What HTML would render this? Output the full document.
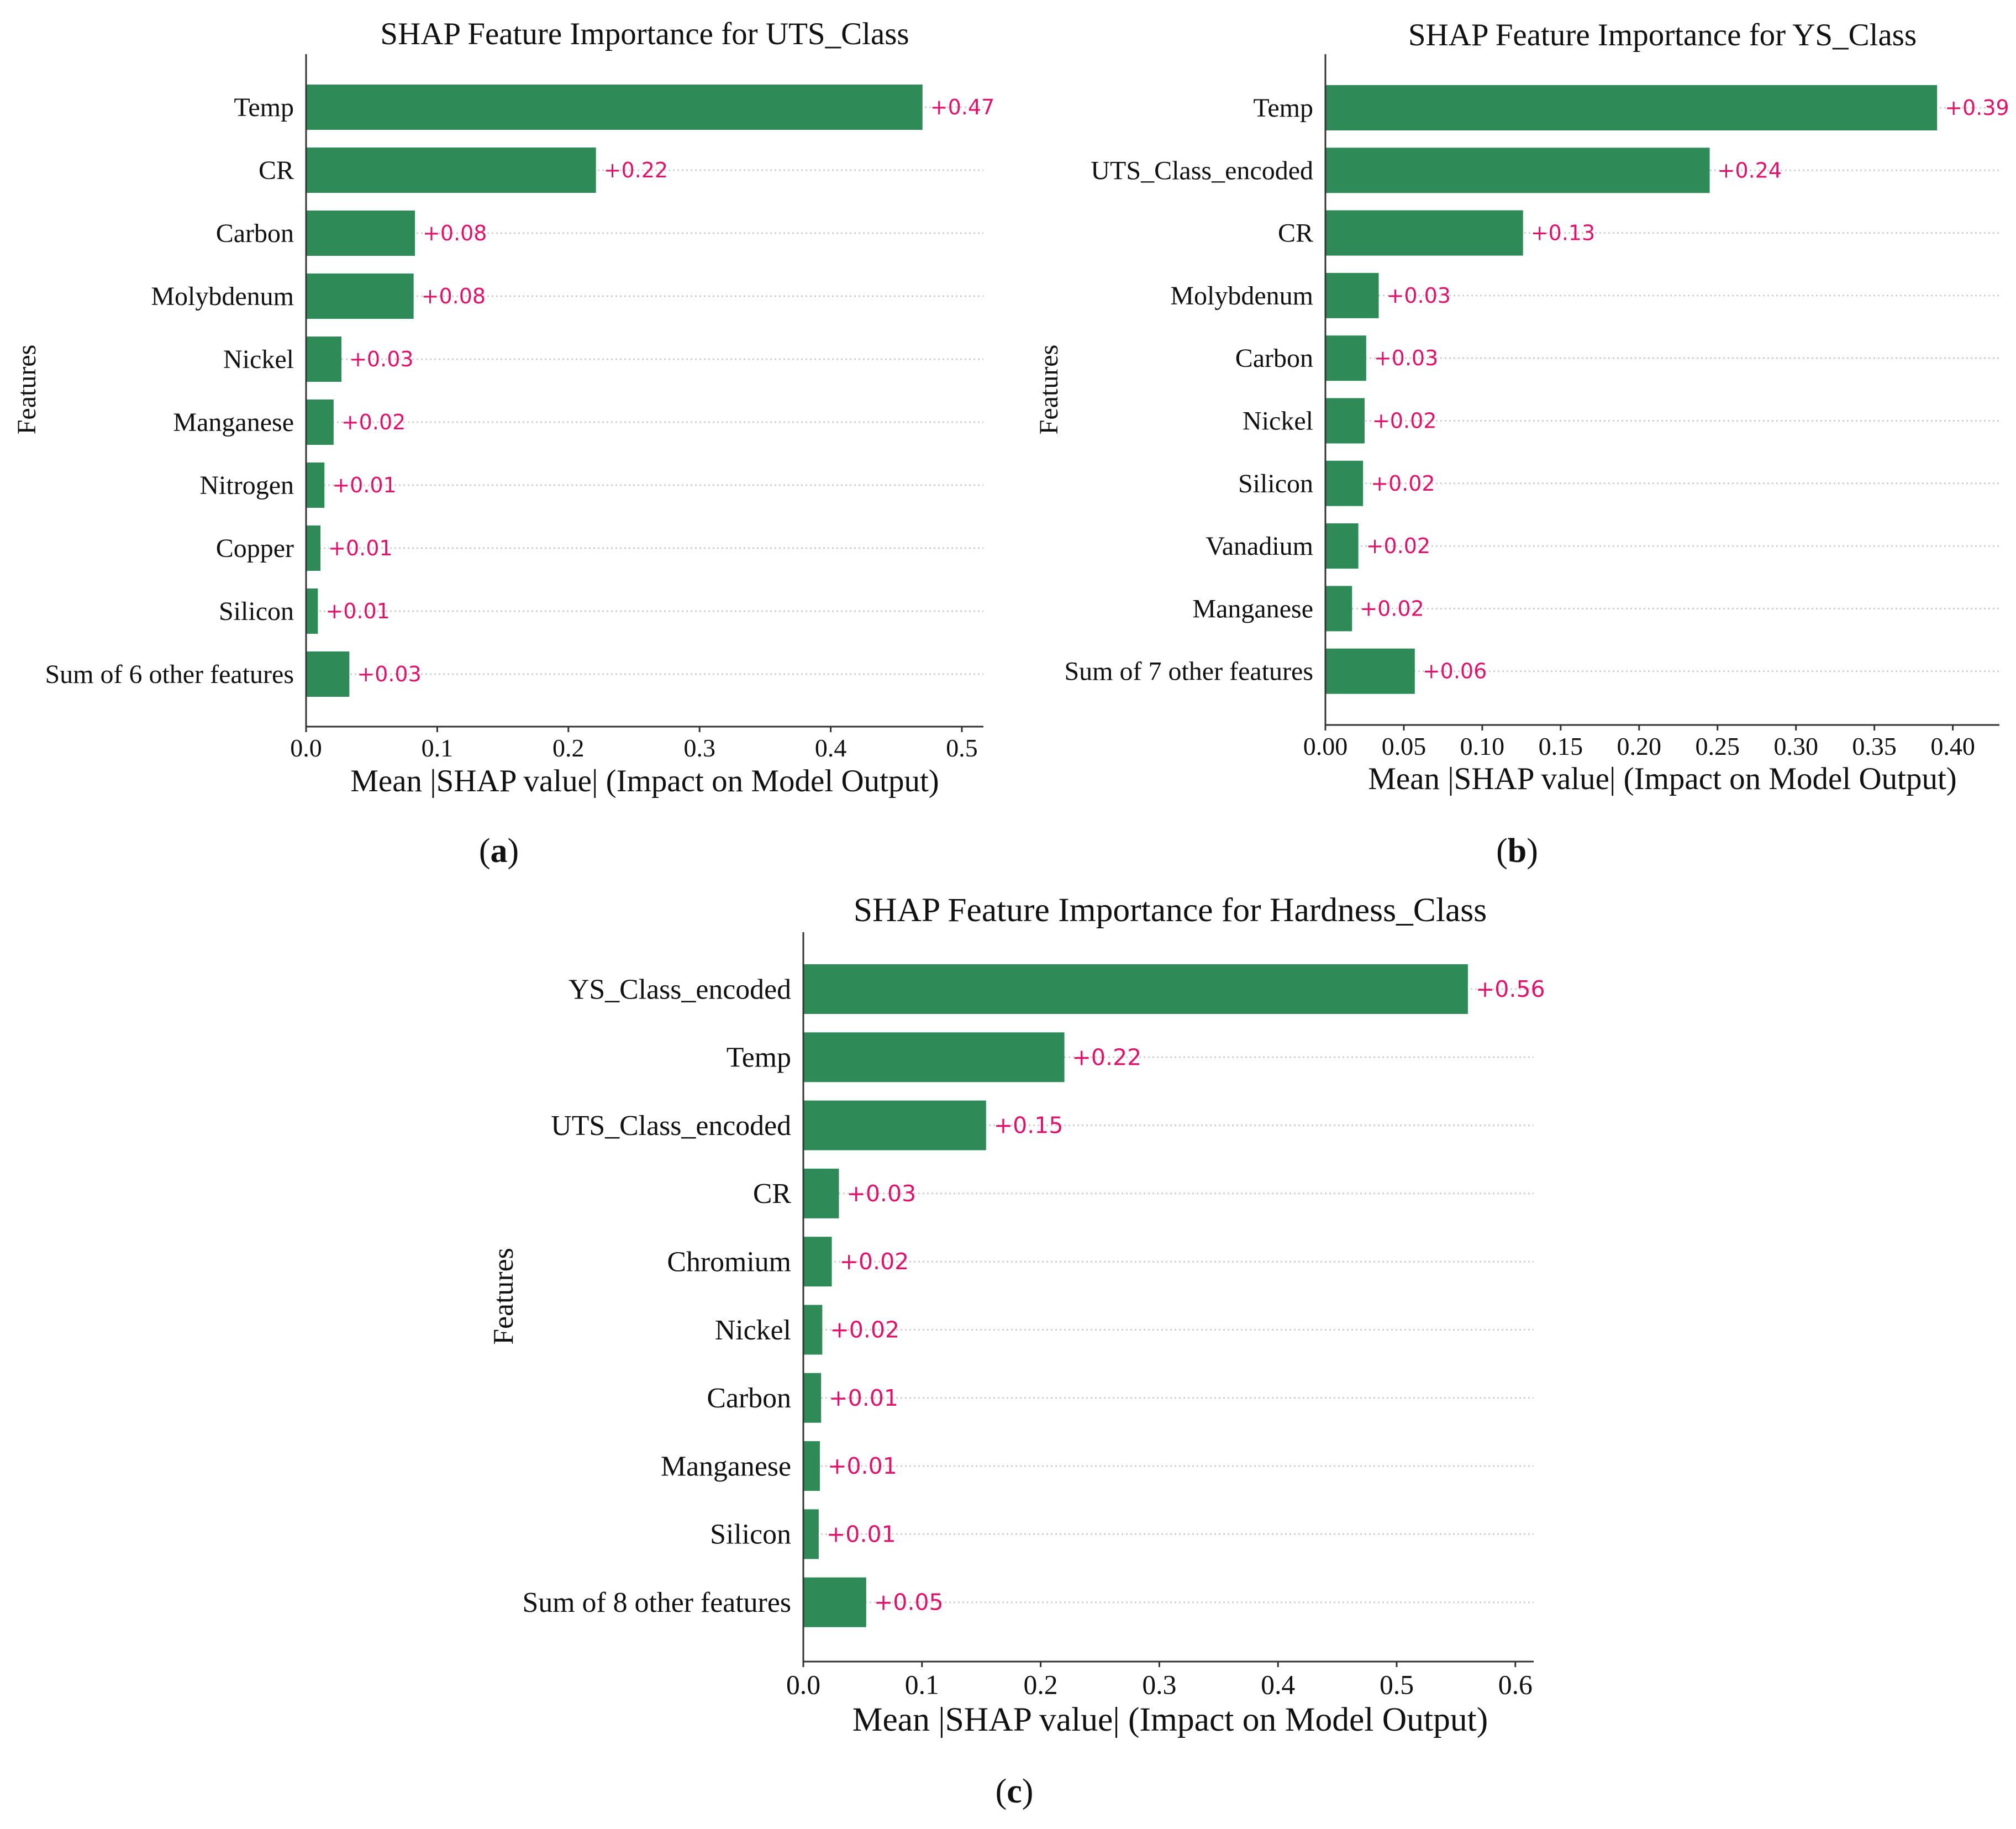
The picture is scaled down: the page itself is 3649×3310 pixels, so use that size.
<!DOCTYPE html>
<html><head><meta charset="utf-8"><style>
html,body{margin:0;padding:0;background:#fff;}
svg{display:block;}
.serif{font-family:"Liberation Serif",serif;fill:#111;}
.val{font-family:"DejaVu Sans","Liberation Sans",sans-serif;fill:#e0136b;}
</style></head><body>
<svg id="fig" width="3649" height="3310" viewBox="0 0 3649 3310" xmlns="http://www.w3.org/2000/svg"></svg>
<script>
const catsA = ["Temp","CR","Carbon","Molybdenum","Nickel","Manganese","Nitrogen","Copper","Silicon","Sum of 6 other features"];
const valsA = [0.470,0.221,0.083,0.082,0.027,0.021,0.014,0.011,0.009,0.033];
const labsA = ["+0.47","+0.22","+0.08","+0.08","+0.03","+0.02","+0.01","+0.01","+0.01","+0.03"];
const ticksA = [0,0.1,0.2,0.3,0.4,0.5];
const tickLabsA = ["0.0","0.1","0.2","0.3","0.4","0.5"];

const catsB = ["Temp","UTS_Class_encoded","CR","Molybdenum","Carbon","Nickel","Silicon","Vanadium","Manganese","Sum of 7 other features"];
const valsB = [0.390,0.245,0.126,0.034,0.026,0.025,0.024,0.021,0.017,0.057];
const labsB = ["+0.39","+0.24","+0.13","+0.03","+0.03","+0.02","+0.02","+0.02","+0.02","+0.06"];
const ticksB = [0,0.05,0.10,0.15,0.20,0.25,0.30,0.35,0.40];
const tickLabsB = ["0.00","0.05","0.10","0.15","0.20","0.25","0.30","0.35","0.40"];

const catsC = ["YS_Class_encoded","Temp","UTS_Class_encoded","CR","Chromium","Nickel","Carbon","Manganese","Silicon","Sum of 8 other features"];
const valsC = [0.560,0.220,0.154,0.030,0.024,0.016,0.015,0.014,0.013,0.053];
const labsC = ["+0.56","+0.22","+0.15","+0.03","+0.02","+0.02","+0.01","+0.01","+0.01","+0.05"];
const ticksC = [0,0.1,0.2,0.3,0.4,0.5,0.6];
const tickLabsC = ["0.0","0.1","0.2","0.3","0.4","0.5","0.6"];

const NS="http://www.w3.org/2000/svg";
const svg=document.getElementById('fig');
function mk(tag,attrs,parent,text){
  const e=document.createElementNS(NS,tag);
  for(const k in attrs) e.setAttribute(k,attrs[k]);
  if(text!==undefined) e.textContent=text;
  (parent||svg).appendChild(e);return e;
}
function panel(p){
  const s=p.fs||1;
  const g=mk('g',{});
  
  
  const x=v=>p.x0+v*p.ppu;
  const y=i=>p.yc0+i*p.step;
  const xEnd=p.xEnd;
  p.cats.forEach((c,i)=>{
    const l=mk('line',{x1:p.x0,x2:xEnd,y1:y(i),y2:y(i),stroke:'#cfcfcf','stroke-width':3,'stroke-dasharray':'3 5'},g);
    
    
  });
  p.cats.forEach((c,i)=>{
    const r=mk('rect',{x:p.x0,y:y(i)-p.bh/2,width:x(p.vals[i])-p.x0,height:p.bh,fill:'#2e8b57'},g);
    
    
    const v=mk('text',{x:x(p.vals[i])+14,y:y(i)+13*s,'font-size':38*s,class:'val'},g,p.labs[i]);
    
    
    const t=mk('text',{x:p.x0-22,y:y(i)+16*s,'font-size':48*s,'text-anchor':'end',class:'serif'},g,c);
    
    
  });
  const ya=mk('line',{x1:p.x0,x2:p.x0,y1:p.yTop,y2:p.yBot,stroke:'#333','stroke-width':3},g);
  
  
  const xa=mk('line',{x1:p.x0,x2:xEnd,y1:p.yBot,y2:p.yBot,stroke:'#333','stroke-width':3},g);
  
  
  p.ticks.forEach((t,i)=>{
    mk('line',{x1:x(t),x2:x(t),y1:p.yBot,y2:p.yBot+10,stroke:'#333','stroke-width':3},g);
    const tl=mk('text',{x:x(t),y:p.yBot+54*s,'font-size':46*s,'text-anchor':'middle',class:'serif'},g,p.tickLabs[i]);
    
    
  });
  const ttl=mk('text',{x:p.titleX,y:p.titleY,'font-size':57*s,'text-anchor':'middle',class:'serif'},g,p.title);
  
  
  const xl=mk('text',{x:p.titleX,y:p.xlY,'font-size':57*s,'text-anchor':'middle',class:'serif'},g,'Mean |SHAP value| (Impact on Model Output)');
  
  
  const yl=mk('text',{x:p.fx,y:p.fy,'font-size':48*s,'text-anchor':'middle',class:'serif',transform:`rotate(-90 ${p.fx} ${p.fy})`},g,'Features');
  
  
  const cap=mk('text',{x:p.capX,y:p.capY,'font-size':62,'text-anchor':'middle',class:'serif'},g,'');
  
  
  mk('tspan',{},cap,'(');
  mk('tspan',{'font-weight':'bold'},cap,p.letter);
  mk('tspan',{},cap,')');
}
panel({name:'panel-a',cats:catsA,vals:valsA,labs:labsA,ticks:ticksA,tickLabs:tickLabsA,
  x0:554,ppu:2374,xEnd:1780,yc0:194,step:114,bh:82,yTop:98,yBot:1315,
  title:'SHAP Feature Importance for UTS_Class',titleX:1167,titleY:80,xlY:1432,fx:64,fy:705,capX:903,capY:1560,letter:'a'});
panel({name:'panel-b',cats:catsB,vals:valsB,labs:labsB,ticks:ticksB,tickLabs:tickLabsB,
  x0:2399,ppu:2839,xEnd:3619,yc0:195,step:113.3,bh:82,yTop:98,yBot:1312,
  title:'SHAP Feature Importance for YS_Class',titleX:3009,titleY:82,xlY:1428,fx:1914,fy:705,capX:2746,capY:1560,letter:'b'});
panel({name:'panel-c',fs:1.08,cats:catsC,vals:valsC,labs:labsC,ticks:ticksC,tickLabs:tickLabsC,
  x0:1454,ppu:2148,xEnd:2776,yc0:1790,step:123.3,bh:90,yTop:1687,yBot:3007,
  title:'SHAP Feature Importance for Hardness_Class',titleX:2118,titleY:1667,xlY:3132,fx:928,fy:2346,capX:1836,capY:3262,letter:'c'});
</script>
</body></html>
